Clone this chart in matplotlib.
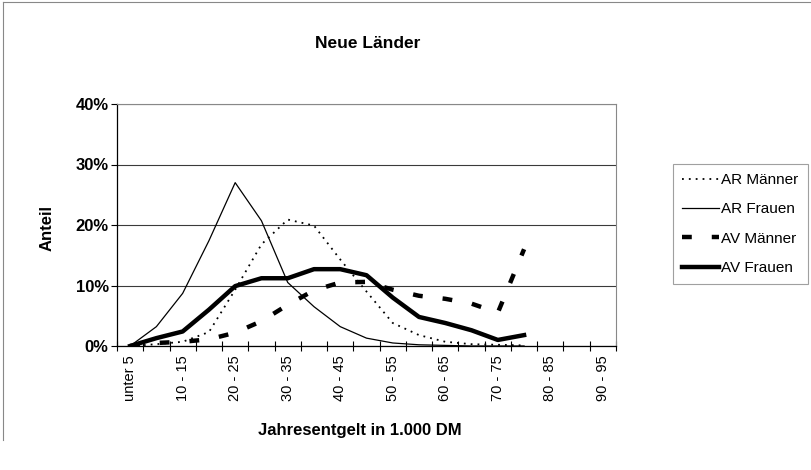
import matplotlib
matplotlib.use("Agg")
import matplotlib.pyplot as plt
from matplotlib.lines import Line2D

plt.rcParams['font.family'] = ['Liberation Sans', 'DejaVu Sans']

# Einkommensklassen (Jahresentgelt in 1.000 DM)
kategorien = ["unter 5", "5 - 10", "10 - 15", "15 - 20", "20 - 25", "25 - 30",
              "30 - 35", "35 - 40", "40 - 45", "45 - 50", "50 - 55", "55 - 60",
              "60 - 65", "65 - 70", "70 - 75", "75 - 80", "80 - 85", "85 - 90",
              "90 - 95"]

# Anteile in Prozent
ar_maenner = [0, 0.3, 0.7, 2.3, 9.3, 16.8, 20.9, 19.9, 14.3, 9.0, 3.8, 1.8, 0.7, 0.3, 0.2, 0.1]
ar_frauen = [0, 3.2, 8.7, 17.4, 27.0, 20.7, 10.5, 6.5, 3.2, 1.3, 0.5, 0.2, 0.1, 0.0, 0.0, 0.0]
av_maenner = [0, 0.5, 0.7, 1.1, 2.2, 4.1, 6.8, 9.2, 10.5, 10.6, 9.3, 8.3, 7.8, 7.0, 5.5, 16.0]
av_frauen = [0, 1.3, 2.4, 6.0, 9.9, 11.2, 11.2, 12.7, 12.7, 11.7, 8.0, 4.8, 3.8, 2.6, 1.0, 1.8]

y_ticks = [0, 10, 20, 30, 40]

fig = plt.figure(figsize=(8.11, 4.70), dpi=100)
ax = fig.add_axes([117 / 811, 1 - 346 / 470, 499 / 811, 242 / 470])

x = range(len(ar_maenner))
ax.plot(x, ar_maenner, color='black', lw=1.3, linestyle=(0, (1, 2.8)), label='AR Männer')
ax.plot(x, ar_frauen, color='black', lw=0.9, label='AR Frauen')
ax.plot(x, av_maenner, color='black', lw=3.2, linestyle=(0, (2.2, 4.5)),
        dash_capstyle='butt', label='AV Männer')
ax.plot(x, av_frauen, color='black', lw=3.2, label='AV Frauen')

ax.set_xlim(-0.5, len(kategorien) - 0.5)
ax.set_ylim(0, 40)

# Achsen
ax.set_yticks(y_ticks)
ax.set_yticklabels([f"{v}%" for v in y_ticks], fontsize=12, fontweight='bold')
ax.tick_params(axis='y', direction='out', length=4, width=0.8, pad=2)
ax.yaxis.grid(True, color='#3a3a3a', lw=0.8)
ax.set_axisbelow(True)

ax.set_xticks(range(0, len(kategorien), 2))
ax.set_xticklabels(kategorien[::2], rotation=90, fontsize=10.5)
ax.set_xticks([i - 0.5 for i in range(len(kategorien) + 1)], minor=True)
ax.tick_params(axis='x', which='major', length=0, pad=7)
ax.tick_params(axis='x', which='minor', direction='inout', length=7, width=0.8)

for s in ['top', 'right']:
    ax.spines[s].set_color('#888888')
    ax.spines[s].set_linewidth(0.8)
for s in ['left', 'bottom']:
    ax.spines[s].set_color('black')
    ax.spines[s].set_linewidth(0.9)

# Texte
fig.text(368 / 811, 1 - 43 / 470, "Neue Länder", ha='center', va='center',
         fontsize=12.5, fontweight='bold')
fig.text(47 / 811, 1 - 228 / 470, "Anteil", ha='center', va='center',
         rotation=90, fontsize=12, fontweight='bold')
fig.text(360 / 811, 1 - 430 / 470, "Jahresentgelt in 1.000 DM", ha='center',
         va='center', fontsize=12, fontweight='bold')

leg = fig.legend(loc='upper left', bbox_to_anchor=(673 / 811, 1 - 164 / 470),
                 fontsize=11, frameon=True, fancybox=False, borderaxespad=0,
                 handlelength=2.4, handletextpad=0.15, labelspacing=1.0,
                 borderpad=0.6)
leg.get_frame().set_edgecolor('#888888')
leg.get_frame().set_linewidth(0.8)

# Rahmen des Diagrammbereichs
fig.add_artist(Line2D([3 / 811, 1], [1 - 2 / 470, 1 - 2 / 470], color='#888888', lw=0.8))
fig.add_artist(Line2D([3 / 811, 3 / 811], [1 - 2 / 470, 1 - 440 / 470], color='#888888', lw=0.8))

fig.savefig("out.png", dpi=100)
